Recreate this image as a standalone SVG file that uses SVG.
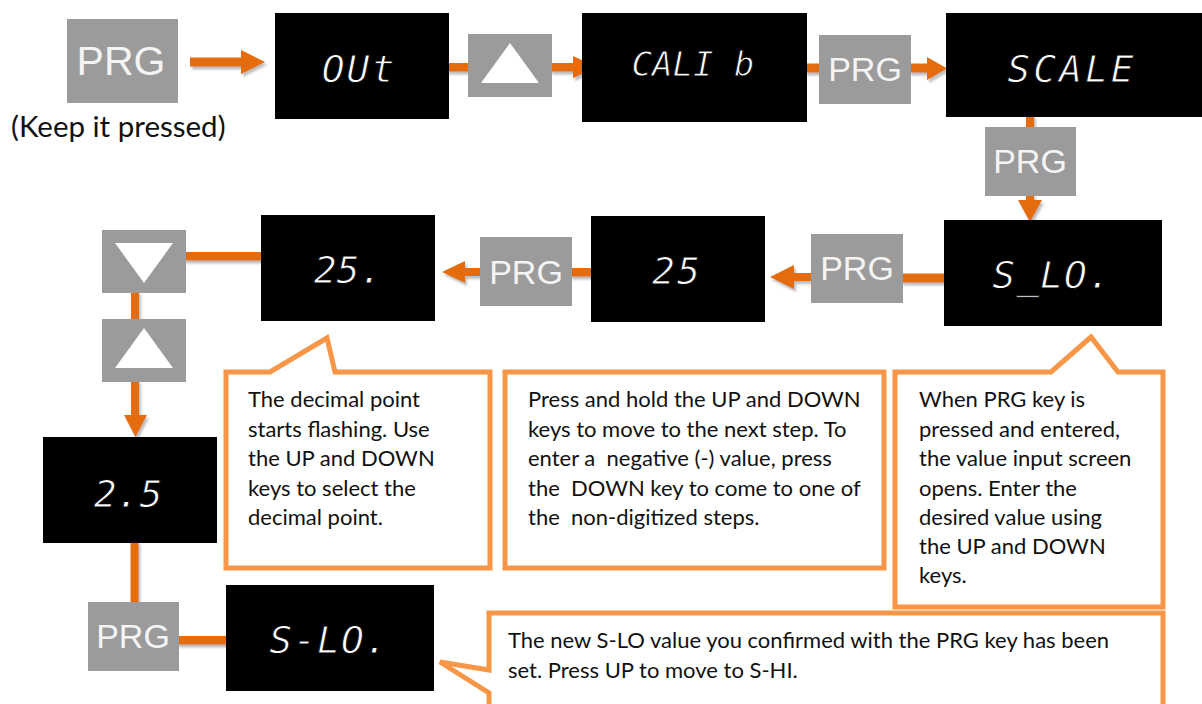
<svg xmlns="http://www.w3.org/2000/svg" width="1202" height="704" viewBox="0 0 1202 704">
<defs>
<filter id="sh" x="-20%" y="-20%" width="140%" height="160%">
<feDropShadow dx="2" dy="3" stdDeviation="1" flood-color="#888" flood-opacity="0.55"/>
</filter>
<style>
.key{fill:#9b9b9b}
.disp{fill:#000}
.tri{fill:#fff}
.prg{font-family:"Liberation Sans",Arial,sans-serif;fill:#f4f4f4;text-anchor:middle}
.seg{font-family:"DejaVu Sans Mono","Liberation Mono",monospace;font-style:italic;fill:#fff;stroke:#000;stroke-width:0.9px;text-anchor:middle;font-size:38px}
.conn{fill:#E46C0A}
.call{fill:#fff;stroke:#F79646;stroke-width:5}
.txt{font-family:Lato,"Open Sans","Liberation Sans",sans-serif;font-size:22px;fill:#111;white-space:pre}
</style>
</defs>
<rect width="1202" height="704" fill="#fff"/>

<g id="connectors" filter="url(#sh)">
<path class="conn" d="M190,57.5 H241 V50 L265,62 L241,74 V66.5 H190 Z"/>
<rect class="conn" x="447" y="63" width="23" height="8.5"/>
<path class="conn" d="M550,63 H573 V56 L597,67 L573,78 V71.5 H550 Z"/>
<rect class="conn" x="805" y="63.5" width="16" height="9"/>
<path class="conn" d="M909,63.5 H927 V57 L947,68.5 L927,80 V72.5 H909 Z"/>
<rect class="conn" x="1026" y="115" width="8" height="14"/>
<path class="conn" d="M1026,194 V200 H1018 L1030,222 L1042,200 H1034 V194 Z"/>
<rect class="conn" x="901" y="273.5" width="45" height="9"/>
<path class="conn" d="M813,273 H794 V265 L770,277 L794,289 V281 H813 Z"/>
<rect class="conn" x="570" y="268" width="23" height="8.5"/>
<path class="conn" d="M482,268 H465 V261 L442,272 L465,283 V276 H482 Z"/>
<rect class="conn" x="184" y="252" width="80" height="8.5"/>
<rect class="conn" x="131" y="291" width="8" height="30"/>
<path class="conn" d="M131,380 V415 H124 L135.5,437 L147,415 H139 V380 Z"/>
<rect class="conn" x="130.5" y="541" width="8" height="63"/>
<rect class="conn" x="177" y="636" width="51" height="8.5"/>
</g>

<g id="prg1"><rect class="key" x="67" y="19" width="111" height="84"/><text class="prg" x="121" y="75" font-size="41">PRG</text></g>
<text id="keep-label" x="11" y="137" style="font-family:Lato,'Open Sans','Liberation Sans',sans-serif;font-size:29.5px;fill:#111">(Keep it pressed)</text>

<g id="out"><rect class="disp" x="275" y="13" width="174" height="106"/><text class="seg" x="359" y="82" letter-spacing="2">OUt</text></g>
<g id="up1"><rect class="key" x="468" y="34" width="84" height="63"/><polygon class="tri" points="510,43 539,83 481,83"/></g>
<g id="calib"><rect class="disp" x="582" y="13" width="225" height="109"/><text class="seg" x="693" y="76" style="font-size:34px">CALI b</text></g>
<g id="prg2"><rect class="key" x="819" y="35" width="92" height="69"/><text class="prg" x="865" y="81" font-size="34">PRG</text></g>
<g id="scale"><rect class="disp" x="946" y="13" width="256" height="104"/><text class="seg" x="1072" y="82" letter-spacing="3">SCALE</text></g>
<g id="prg3"><rect class="key" x="985" y="127" width="91" height="69"/><text class="prg" x="1030" y="173" font-size="34">PRG</text></g>

<g id="slo"><rect class="disp" x="944" y="220" width="218" height="106"/><text class="seg" x="1052" y="288" letter-spacing="1">S_LO.</text></g>
<g id="prg4"><rect class="key" x="811" y="234" width="92" height="69"/><text class="prg" x="857" y="280" font-size="34">PRG</text></g>
<g id="val25"><rect class="disp" x="591" y="216" width="174" height="106"/><text class="seg" x="677" y="284" letter-spacing="2">25</text></g>
<g id="prg-mid"><rect class="key" x="480" y="237" width="92" height="69"/><text class="prg" x="526" y="284" font-size="34">PRG</text></g>
<g id="val25dot"><rect class="disp" x="261" y="215" width="174" height="106"/><text class="seg" x="348" y="283">25.</text></g>
<g id="down"><rect class="key" x="102" y="230" width="84" height="63"/><polygon class="tri" points="115,243 173,243 144,283"/></g>
<g id="up2"><rect class="key" x="102" y="319" width="84" height="63"/><polygon class="tri" points="144,328 173,368 115,368"/></g>
<g id="val2p5"><rect class="disp" x="43" y="437" width="174" height="106"/><text class="seg" x="128" y="507">2.5</text></g>
<g id="prg5"><rect class="key" x="88" y="602" width="91" height="69"/><text class="prg" x="133" y="648" font-size="34">PRG</text></g>
<g id="slo2"><rect class="disp" x="226" y="585" width="208" height="106"/><text class="seg" x="329" y="653" letter-spacing="1">S-LO.</text></g>

<g id="callout-decimal">
<path class="call" d="M226,372 H270 L327,338 L335,372 H490 V568 H226 Z"/>
<text class="txt"><tspan x="248" y="407">The decimal point</tspan><tspan x="248" y="436.5">starts flashing. Use</tspan><tspan x="248" y="466">the UP and DOWN</tspan><tspan x="248" y="495.5">keys to select the</tspan><tspan x="248" y="525">decimal point.</tspan></text>
</g>
<g id="callout-hold">
<rect class="call" x="505" y="372" width="379" height="196"/>
<text class="txt"><tspan x="528" y="407">Press and hold the UP and DOWN</tspan><tspan x="528" y="436.5">keys to move to the next step. To</tspan><tspan x="528" y="466">enter a  negative (-) value, press</tspan><tspan x="528" y="495.5">the  DOWN key to come to one of</tspan><tspan x="528" y="525">the  non-digitized steps.</tspan></text>
</g>
<g id="callout-prg">
<path class="call" d="M895,372 H1051 L1091,337 L1118,372 H1163 V607 H895 Z"/>
<text class="txt"><tspan x="919" y="407">When PRG key is</tspan><tspan x="919" y="436.5">pressed and entered,</tspan><tspan x="919" y="466">the value input screen</tspan><tspan x="919" y="495.5">opens. Enter the</tspan><tspan x="919" y="525">desired value using</tspan><tspan x="919" y="554">the UP and DOWN</tspan><tspan x="919" y="583">keys.</tspan></text>
</g>
<g id="callout-set">
<path class="call" d="M489,613 H1163 V720 H489 V693 L440,662 L489,670 Z"/>
<text class="txt"><tspan x="508" y="648">The new S-LO value you confirmed with the PRG key has been</tspan><tspan x="508" y="678">set. Press UP to move to S-HI.</tspan></text>
</g>
</svg>
